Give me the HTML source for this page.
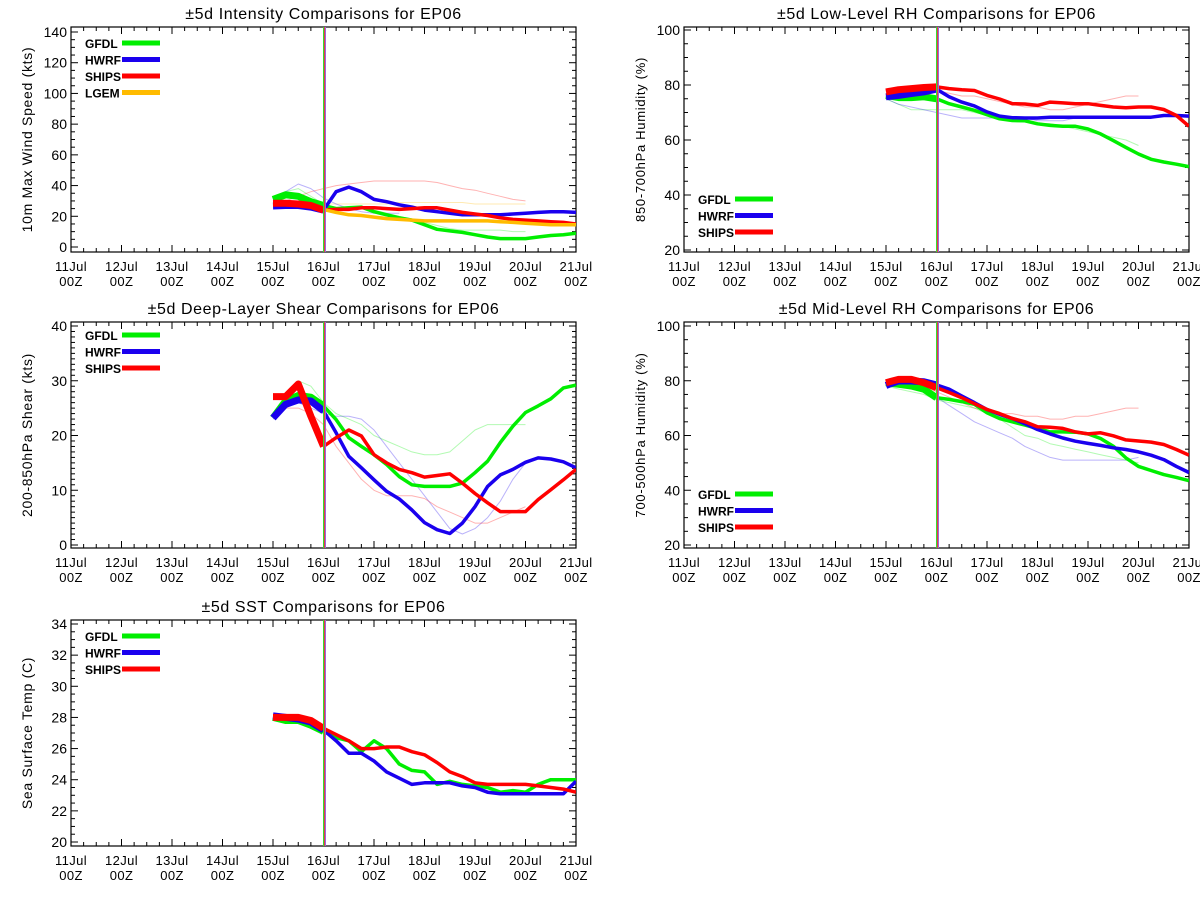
<!DOCTYPE html>
<html><head><meta charset="utf-8"><style>
html,body{margin:0;padding:0;background:#fff;}
svg{display:block;font-family:"Liberation Sans",sans-serif;}
</style></head><body>
<svg id="chart" width="1200" height="900" viewBox="0 0 1200 900" xmlns="http://www.w3.org/2000/svg"></svg>
<script>
// time: index i -> 15Jul 00Z + 6h*i (days after 11Jul 00Z = 4 + i/4)
const dayLabels = ["11Jul","12Jul","13Jul","14Jul","15Jul","16Jul","17Jul","18Jul","19Jul","20Jul","21Jul"];
const hourLabel = "00Z";

// Intensity (kts)
const intGFDL = [31,34,33,29.5,27,25,25.5,26,23,21,19,17.5,14.5,11.5,10.5,9.5,8,6.5,5.5,5.5,5.5,6.5,7.5,8,9];
const intHWRF = [26.7,27,27,26,24,36,39,36,31,29.5,27.5,26,24,23,22,21,21,21,21,21.5,22,22.5,23,23,22.5];
const intSHIPS = [28.5,28.5,28,27,24,24.5,24.5,25.5,25.5,25,24.5,25,25.5,25.5,24,22.5,21.5,20.5,19,18,17.5,17,16.5,16,15];
const intLGEM = [null,null,null,null,24.5,22.5,21,20.5,19.5,18.5,18,17.5,17,17,17,17,17,17,16.5,16,15.5,15,14.5,14.5,14.5];
const intOldRed = [28,30,33,36,38,40,41,42,43,43,43,43,43,42,40,38,37,35,33,31,30];
const intOldOrange = [null,null,null,null,28,28,28,28,28,28,29,29,29,29,29,29,28,28,28,28,28];
const intOldBlue = [30,36,41,38,32,28,25,23,22,22,22];
const intOldGreen = [32,36,38,33,28,25,25,25,24,22,20,18,16,14,12,11,11,11,11,10,10];

// Low-level RH (%)
const lrhGFDL = [76.2,75.4,75.4,75.7,75,73.2,72,70.8,69.2,67.7,67.1,67,65.9,65.3,65,65,64,62.2,59.8,57.3,54.9,53,52,51.2,50.3];
const lrhHWRF = [75.7,76.2,76.9,77.5,78.5,75.7,73.8,72.4,70.2,68.7,68.1,68,68,68.3,68.3,68.3,68.3,68.3,68.3,68.3,68.3,68.3,68.9,68.9,68.7];
const lrhSHIPS = [77.5,78.3,78.7,79.1,79.3,78.7,78.3,78,76.2,74.9,73.2,73.1,72.6,73.8,73.5,73.2,73.2,72.6,72,71.7,72,72,71.1,68.9,65];
const lrhOldRed = [76,77,78,78,78,77,76,76,75,74,73,72,72,71,71,72,73,74,75,76,76];
const lrhOldGreen = [75,73,71,71,71,71,71,70,69,68,67,67,66,66,65,64,63,62,61,60,58];
const lrhOldBlue = [75,73,72,71,70,69,68,68,68,68,68,68,67,67,67,68,68,68,68,68,68];

// Shear (kts)
const shrGFDL = [23.2,26.3,27.3,27,25.4,22.9,19.6,18,16.5,14.7,12.5,11,10.7,10.7,10.7,11.3,13.2,15.3,18.7,21.7,24.2,25.4,26.7,28.7,29.2];
const shrHWRF = [23.2,25.7,26.5,26.3,24.5,20.5,16.2,14.1,11.9,9.8,8.4,6.4,4.1,2.8,2.1,4,7,10.7,12.8,13.8,15.1,15.9,15.7,15.2,14.1];
const shrSHIPS = [27.1,27.1,29.4,23.5,18,19.6,21,19.9,16.5,15,13.8,13.2,12.4,12.7,13,11.3,9.4,7.7,6.1,6.1,6.1,8.3,10.1,11.9,13.8];
const shrOldGreen = [24,27,30,29,26,24,23,22,20,19,18,17,16.5,16.5,17,19,21,22,22,22,22];
const shrOldBlue = [23,25,26,25,24,23.5,23.5,23,21,18,15,12,9,6,3,2,3,5,8,12,15];
const shrOldRed = [24,25,25,24,22,18,15,12,10,9,9,9,8.5,7,6,5,4,4,5,6,7];

// Mid-level RH (%)
const mrhGFDL = [79.3,78.7,78.1,76.9,73.8,73.2,72.4,71.4,68.3,66.2,65,63.8,62.6,61.3,61.3,61.2,60.6,58.9,56.1,51.8,48.7,47.2,45.7,44.7,43.5];
const mrhHWRF = [78.3,79.9,79.9,79.6,78.5,76.9,74.4,72,69.5,67.7,66.2,64.3,62.2,60.6,59.1,57.9,57.1,56.4,55.5,54.9,54,52.8,51.2,48.7,46.5];
const mrhSHIPS = [79.3,80.5,80.5,79.3,77.5,75.7,73.8,71.6,69.5,68,66.2,65,63.2,63,62.6,61.3,60.6,61,59.9,58.4,58,57.6,56.7,54.9,52.8];
const mrhOldRed = [79,79,79,78,76,74,72,70,69,68,68,67,67,66,66,67,67,68,69,70,70];
const mrhOldBlue = [79,78,77,76,74,71,68,65,63,61,59,56,54,52,51,51,51,51,51,51,52];
const mrhOldGreen = [78,77,76,75,73,72,71,70,68,66,63,60,59,57,56,55,54,53,52,51,50];

// SST (C)
const sstGFDL = [28,27.8,27.8,27.5,27.1,26.7,26.5,25.8,26.5,26,25,24.6,24.5,23.7,23.9,23.7,23.6,23.5,23.2,23.3,23.2,23.7,24,24,24];
const sstHWRF = [28.1,28,27.9,27.7,27.2,26.5,25.7,25.7,25.2,24.5,24.1,23.7,23.8,23.8,23.8,23.6,23.5,23.2,23.1,23.1,23.1,23.1,23.1,23.1,23.9];
const sstSHIPS = [28,28,28,27.8,27.3,26.9,26.5,26,26,26.1,26.1,25.8,25.6,25.1,24.5,24.2,23.8,23.7,23.7,23.7,23.7,23.6,23.5,23.4,23.2];

const svg = document.getElementById('chart');
const NS = "http://www.w3.org/2000/svg";
function mk(tag, attrs, parent){
  const e = document.createElementNS(NS, tag);
  for (const k in attrs) e.setAttribute(k, attrs[k]);
  (parent||svg).appendChild(e);
  return e;
}
const C = {g:"#00ee00", b:"#1a00ee", r:"#ff0000", o:"#ffbb00"};

function panel(cfg){
  const g = mk('g', {});
  
  
  const L=cfg.x0, R=cfg.x1, T=cfg.top, B=cfg.bot;
  const xs = d => L + (R-L)*d/10;
  const ys = v => cfg.yTickTopPx + (cfg.yTickBotPx-cfg.yTickTopPx)*(cfg.ymax - v)/(cfg.ymax-cfg.ymin);
  const xi = i => xs(4 + i/4);
  const t = mk('text', {x:(L+R)/2, y:T-8, 'text-anchor':'middle', 'font-size':'16', fill:'#000', 'letter-spacing':'0.6'}, g);
  t.textContent = cfg.title;
  
  
  const box = mk('rect', {x:L, y:T, width:R-L, height:B-T, fill:'none', stroke:'#000', 'stroke-width':'1.2'}, g);
  
  
  for (let k=0;k<=40;k++){
    const x = xs(k/4), len = (k%4===0)?7:4;
    mk('line',{x1:x,y1:B,x2:x,y2:B-len,stroke:'#000','stroke-width':'1'},g);
    mk('line',{x1:x,y1:T,x2:x,y2:T+len,stroke:'#000','stroke-width':'1'},g);
  }
  dayLabels.forEach((lab,k)=>{
    const x = xs(k);
    const a = mk('text',{x:x,y:B+19,'text-anchor':'middle','font-size':'13',fill:'#000','letter-spacing':'0.4'},g);
    a.textContent = lab;
    
    
    const b = mk('text',{x:x,y:B+34,'text-anchor':'middle','font-size':'13',fill:'#000','letter-spacing':'0.4'},g);
    b.textContent = hourLabel;
    
    
  });
  for (let v=cfg.ymin; v<=cfg.ymax+1e-6; v+=cfg.minor){
    const y = ys(v);
    const isMaj = Math.abs((v-cfg.ymin)/cfg.major - Math.round((v-cfg.ymin)/cfg.major))<1e-6;
    const len = isMaj?7:4;
    mk('line',{x1:L,y1:y,x2:L+len,y2:y,stroke:'#000','stroke-width':'1'},g);
    mk('line',{x1:R,y1:y,x2:R-len,y2:y,stroke:'#000','stroke-width':'1'},g);
    if (isMaj){
      const tl = mk('text',{x:L-4,y:y+5,'text-anchor':'end','font-size':'14',fill:'#000'},g);
      tl.textContent = String(Math.round(v));
      
      
    }
  }
  const yl = mk('text',{x:0,y:0,'text-anchor':'middle','font-size':cfg.ylFont||'13',fill:'#000','letter-spacing':'0.7',
    transform:`translate(${L-39},${(T+B)/2}) rotate(-90)`},g);
  yl.textContent = cfg.ylabel;
  
  

  const clip = 'clip-'+cfg.name;
  const cp = mk('clipPath',{id:clip},g);
  mk('rect',{x:L,y:T,width:R-L,height:B-T},cp);
  const pg = mk('g',{'clip-path':`url(#${clip})`},g);

  function line(arr, color, w, op, from, to, nm){
    const pts=[];
    for (let i=from;i<=Math.min(to,arr.length-1);i++){ if(arr[i]!=null) pts.push(xi(i).toFixed(1)+','+ys(arr[i]).toFixed(1)); }
    if (pts.length<2) return;
    const p = mk('polyline',{points:pts.join(' '),fill:'none',stroke:color,'stroke-width':w,'stroke-opacity':op,'stroke-linejoin':'round'},pg);
    
    
  }
  (cfg.old||[]).forEach(o=> line(o.d, o.c, 1, 0.3, 0, 24, 'previous-forecast-line'));
  cfg.series.forEach(s=>{
    line(s.d, s.c, 7, 1, 0, 4, s.nm+'-analysis-line');
    line(s.d, s.c, 3.5, 1, 4, 24, s.nm+'-forecast-line');
  });
  const xv = Math.round(xs(5)) + 0.5;
  const vl = mk('g',{},g);
  
  
  mk('line',{x1:xv-1,y1:T,x2:xv-1,y2:B,stroke:'#33dd33','stroke-width':'1'},vl);
  mk('line',{x1:xv,y1:T,x2:xv,y2:B,stroke:'#e04040','stroke-width':'1'},vl);
  mk('line',{x1:xv+1,y1:T,x2:xv+1,y2:B,stroke:'#9966dd','stroke-width':'1'},vl);
  cfg.series.forEach((s,k)=>{
    const ly = cfg.legY + k*16.5;
    const lg = mk('g',{},g);
    
    
    const tx = mk('text',{x:L+14,y:ly+5,'font-size':'12','font-weight':'bold',fill:'#000'},lg);
    tx.textContent = s.label;
    mk('line',{x1:L+51,y1:ly,x2:L+89,y2:ly,stroke:s.c,'stroke-width':'5'},lg);
  });
}

panel({name:'intensity-panel', title:'\u00b15d Intensity Comparisons for EP06', ylabel:'10m Max Wind Speed (kts)', ylFont:'14',
  x0:71, x1:576, top:27, bot:252, ymin:0, ymax:140, yTickTopPx:32, yTickBotPx:247, major:20, minor:5, legY:43,
  series:[{d:intGFDL,c:C.g,label:'GFDL',nm:'gfdl'},{d:intHWRF,c:C.b,label:'HWRF',nm:'hwrf'},{d:intSHIPS,c:C.r,label:'SHIPS',nm:'ships'},{d:intLGEM,c:C.o,label:'LGEM',nm:'lgem'}],
  old:[{d:intOldRed,c:C.r},{d:intOldOrange,c:C.o},{d:intOldBlue,c:C.b},{d:intOldGreen,c:C.g}]});

panel({name:'low-level-rh-panel', title:'\u00b15d Low-Level RH Comparisons for EP06', ylabel:'850-700hPa Humidity (%)',
  x0:684, x1:1189, top:27, bot:252, ymin:20, ymax:100, yTickTopPx:30, yTickBotPx:250, major:20, minor:5, legY:199,
  series:[{d:lrhGFDL,c:C.g,label:'GFDL',nm:'gfdl'},{d:lrhHWRF,c:C.b,label:'HWRF',nm:'hwrf'},{d:lrhSHIPS,c:C.r,label:'SHIPS',nm:'ships'}],
  old:[{d:lrhOldRed,c:C.r},{d:lrhOldGreen,c:C.g},{d:lrhOldBlue,c:C.b}]});

panel({name:'shear-panel', title:'\u00b15d Deep-Layer Shear Comparisons for EP06', ylabel:'200-850hPa Shear (kts)', ylFont:'14',
  x0:71, x1:576, top:322, bot:548, ymin:0, ymax:40, yTickTopPx:326, yTickBotPx:545, major:10, minor:1, legY:335,
  series:[{d:shrGFDL,c:C.g,label:'GFDL',nm:'gfdl'},{d:shrHWRF,c:C.b,label:'HWRF',nm:'hwrf'},{d:shrSHIPS,c:C.r,label:'SHIPS',nm:'ships'}],
  old:[{d:shrOldGreen,c:C.g},{d:shrOldBlue,c:C.b},{d:shrOldRed,c:C.r}]});

panel({name:'mid-level-rh-panel', title:'\u00b15d Mid-Level RH Comparisons for EP06', ylabel:'700-500hPa Humidity (%)',
  x0:684, x1:1189, top:322, bot:548, ymin:20, ymax:100, yTickTopPx:326, yTickBotPx:545, major:20, minor:5, legY:494,
  series:[{d:mrhGFDL,c:C.g,label:'GFDL',nm:'gfdl'},{d:mrhHWRF,c:C.b,label:'HWRF',nm:'hwrf'},{d:mrhSHIPS,c:C.r,label:'SHIPS',nm:'ships'}],
  old:[{d:mrhOldRed,c:C.r},{d:mrhOldBlue,c:C.b},{d:mrhOldGreen,c:C.g}]});

panel({name:'sst-panel', title:'\u00b15d SST Comparisons for EP06', ylabel:'Sea Surface Temp (C)', ylFont:'14',
  x0:71, x1:576, top:620, bot:846, ymin:20, ymax:34, yTickTopPx:624, yTickBotPx:842, major:2, minor:0.5, legY:636,
  series:[{d:sstGFDL,c:C.g,label:'GFDL',nm:'gfdl'},{d:sstHWRF,c:C.b,label:'HWRF',nm:'hwrf'},{d:sstSHIPS,c:C.r,label:'SHIPS',nm:'ships'}],
  old:[]});
</script>
</body></html>
